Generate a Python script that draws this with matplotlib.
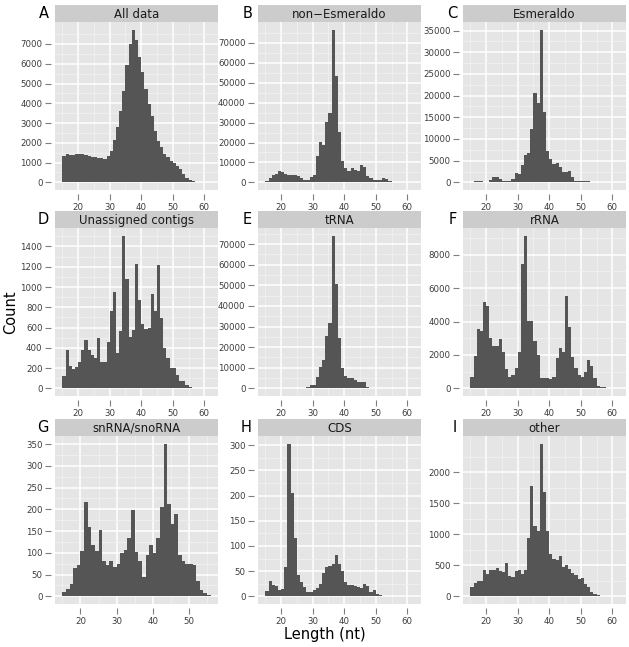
import numpy as np
import matplotlib
matplotlib.use('Agg')
import matplotlib.pyplot as plt
from matplotlib.ticker import FixedLocator, FuncFormatter

# ---------------- data (counts per 1-nt bin, first bin starts at 15 nt) ----------------
bin_start = 15

all_data = [1350, 1430, 1400, 1370, 1430, 1430, 1420, 1400, 1320, 1280, 1260, 1250, 1230, 1200, 1350,
            1570, 2140, 2820, 3630, 4640, 5950, 7000, 7725, 7200, 6360, 5560, 4720, 3960, 3370, 2610,
            2110, 1770, 1430, 1260, 1060, 980, 840, 670, 420, 200, 120, 70, 35, 20, 15, 8, 5]
non_esmeraldo = [800, 2200, 3900, 4200, 5500, 5400, 4200, 3500, 3500, 3700, 3000, 2200, 1200, 1300, 2800,
                 3900, 13400, 20100, 18800, 30200, 34700, 76700, 53200, 25500, 10900, 7200, 5900, 7200, 6400,
                 5500, 8900, 7900, 3400, 2000, 1200, 1000, 1300, 2000, 1700, 800, 300, 200, 100, 80, 60, 40, 30]
esmeraldo = [150, 230, 230, 230, 150, 150, 540, 1300, 1150, 770, 380, 300, 380, 770, 2230,
             1920, 4000, 6400, 6800, 12300, 20600, 18300, 35200, 16200, 7300, 5400, 4200, 4500, 3500,
             2500, 2500, 2700, 1150, 380, 300, 300, 380, 230, 150, 80, 50, 40, 30, 20, 15, 10, 5]
unassigned = [126, 380, 225, 189, 215, 258, 374, 473, 374, 331, 298, 497, 258, 265, 457,
              762, 954, 348, 570, 1507, 1076, 503, 579, 1225, 867, 636, 589, 596, 934,
              768, 1215, 695, 397, 298, 199, 205, 132, 73, 73, 33, 17, 7, 4, 3, 2, 2, 1]
trna = [200, 150, 150, 200, 200, 300, 300, 200, 200, 200, 300, 300, 400, 700, 1600,
        1600, 5700, 10300, 14000, 25600, 31600, 74100, 50500, 24400, 9800, 6000, 4900, 5200, 4100,
        3300, 2900, 2900, 650, 300, 200, 150, 100, 80, 60, 50, 40, 30, 20, 15, 10, 10, 5]
rrna = [700, 1910, 3580, 3460, 5140, 4930, 3020, 2520, 2520, 2960, 2150, 1150, 660, 810, 1210,
        2150, 7450, 9140, 4060, 4060, 2860, 2010, 600, 640, 640, 540, 660, 1810, 2420,
        2150, 5500, 3650, 1850, 1210, 810, 700, 970, 1670, 1350, 640, 160, 80, 60, 30, 20, 10, 5]
snrna = [9, 18, 28, 65, 72, 104, 217, 160, 119, 104, 153, 82, 72, 82, 67,
         75, 99, 106, 134, 198, 102, 81, 45, 96, 117, 99, 135, 206, 351, 213,
         167, 190, 96, 82, 75, 75, 73, 36, 15, 7, 4]
cds = [11, 30, 23, 20, 13, 15, 59, 303, 206, 115, 43, 28, 18, 9, 9,
       13, 16, 25, 47, 58, 61, 65, 83, 65, 51, 28, 23, 23, 20, 18,
       16, 25, 20, 8, 13, 5, 3, 1, 0, 0, 0, 0, 0, 0, 1, 1, 0]
other = [145, 210, 250, 250, 425, 360, 425, 430, 457, 400, 387, 538, 323, 306, 400,
         430, 360, 425, 941, 1769, 1124, 1048, 2457, 1677, 1059, 683, 602, 591, 645,
         468, 505, 441, 371, 349, 280, 290, 200, 145, 65, 38, 22, 11, 5, 4, 3, 2, 1]

letters = ["A", "B", "C", "D", "E", "F", "G", "H", "I"]
titles = ["All data", "non\u2212Esmeraldo", "Esmeraldo", "Unassigned contigs", "tRNA", "rRNA",
          "snRNA/snoRNA", "CDS", "other"]
series = [all_data, non_esmeraldo, esmeraldo, unassigned, trna, rrna, snrna, cds, other]
y_steps = [1000, 10000, 5000, 200, 10000, 2000, 50, 50, 500]
x_step = 10
x_label = "Length (nt)"
y_label = "Count"

# ---------------- styling / layout ----------------
W, H = 629, 647
fig = plt.figure(figsize=(W / 100, H / 100), dpi=100)
fig.patch.set_facecolor('white')

col_left = [55, 258, 463]
row_top = [22, 228, 436]
pw, ph = 163, 168
sh = 17

bar_color = '#555555'
panel_bg = '#E5E5E5'
strip_bg = '#CCCCCC'
tick_col = '#7F7F7F'
text_col = '#3C3C3C'

fmt = FuncFormatter(lambda v, p: f"{int(round(v))}")

for i in range(9):
    r, c = divmod(i, 3)
    left, top = col_left[c], row_top[r]
    vals = np.asarray(series[i], dtype=float)
    edges = np.arange(bin_start, bin_start + len(vals) + 1)

    ax = fig.add_axes([left / W, 1 - (top + ph) / H, pw / W, ph / H])
    ax.set_facecolor(panel_bg)
    ax.stairs(vals, edges, fill=True, color=bar_color, linewidth=0)

    lo, hi = edges[0], edges[-1]
    pad = 0.05 * (hi - lo)
    ax.set_xlim(lo - pad, hi + pad)
    M = vals.max()
    ax.set_ylim(-0.05 * M, 1.05 * M)

    step = y_steps[i]
    ymaj = np.arange(0, M + 1e-9, step)
    ymin = np.arange(step / 2, 1.05 * M, step)
    xmaj = np.arange(20, hi + 1e-9, x_step)
    xmin = np.arange(15, hi + pad, x_step)
    ax.yaxis.set_major_locator(FixedLocator(ymaj))
    ax.yaxis.set_minor_locator(FixedLocator(ymin))
    ax.xaxis.set_major_locator(FixedLocator(xmaj))
    ax.xaxis.set_minor_locator(FixedLocator(xmin))
    ax.yaxis.set_major_formatter(fmt)
    ax.xaxis.set_major_formatter(fmt)

    ax.grid(which='major', color='white', linewidth=1.1)
    ax.grid(which='minor', color='#F2F2F2', linewidth=0.5)
    ax.set_axisbelow(True)

    for s in ax.spines.values():
        s.set_visible(False)
    ax.spines['left'].set_position(('outward', 3))
    ax.spines['bottom'].set_position(('outward', 3))
    ax.tick_params(which='major', direction='out', length=4, width=0.8, color=tick_col,
                   labelsize=6.2, labelcolor=text_col, pad=2)
    ax.tick_params(which='minor', length=0)

    # facet strip
    sax = fig.add_axes([left / W, 1 - top / H, pw / W, sh / H])
    sax.set_facecolor(strip_bg)
    for s in sax.spines.values():
        s.set_visible(False)
    sax.set_xticks([])
    sax.set_yticks([])
    sax.text(0.5, 0.45, titles[i], ha='center', va='center', fontsize=8.5, color='#1A1A1A',
             transform=sax.transAxes)

    # panel letter
    fig.text((left - 6) / W, 1 - (top - sh / 2) / H, letters[i], ha='right', va='center',
             fontsize=10.5, color='black')

fig.text(325 / W, 1 - 635 / H, x_label, ha='center', va='center', fontsize=10.5, color='black')
fig.text(11 / W, 1 - 312 / H, y_label, ha='center', va='center', rotation=90, fontsize=10.5,
         color='black')

fig.savefig('out.png', dpi=100, facecolor='white')
